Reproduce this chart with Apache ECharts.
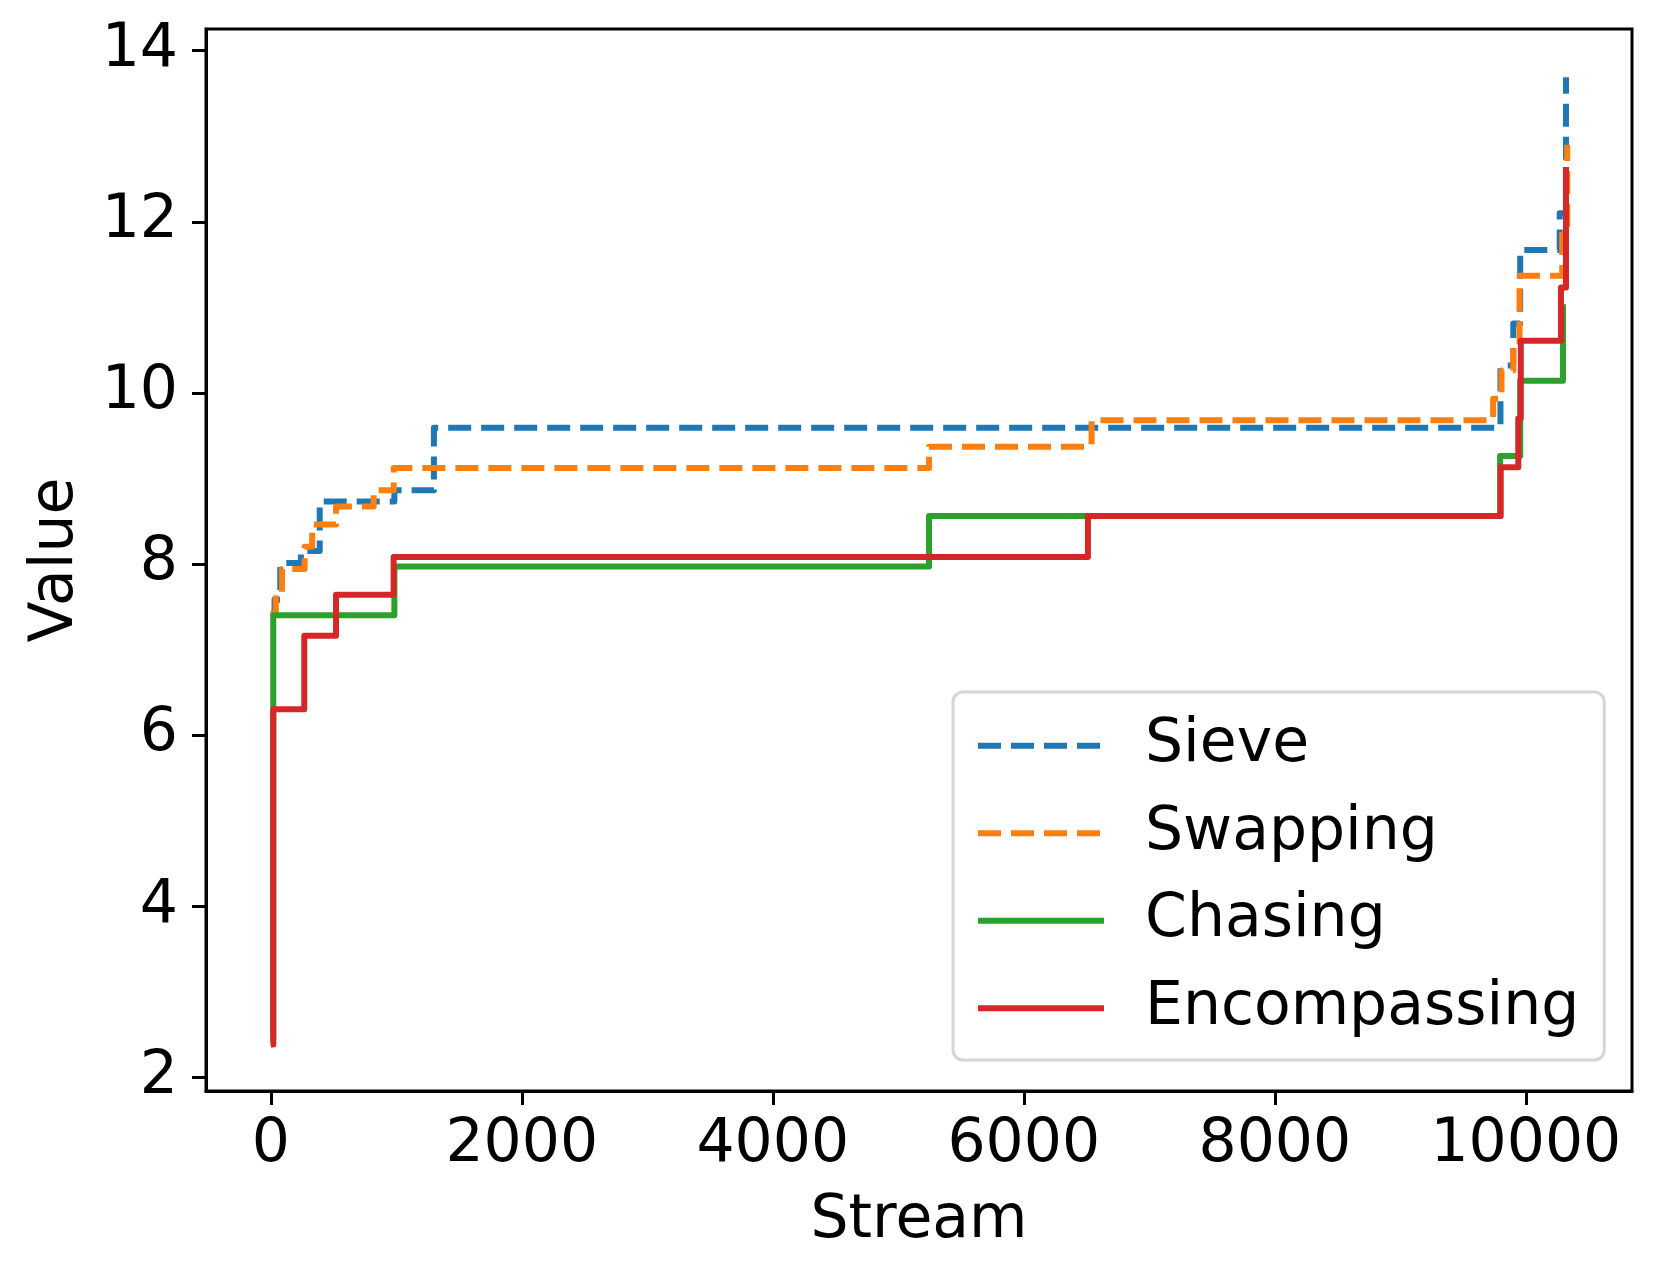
<!DOCTYPE html>
<html>
<head>
<meta charset="utf-8">
<script src="https://cdn.jsdelivr.net/npm/echarts@6/dist/echarts.min.js"></script>
<style>
html,body{margin:0;padding:0;background:#fff;}
#chart{width:1661px;height:1280px;}
</style>
</head>
<body>
<div id="chart"></div>
<script>
// Data (step lines: value holds from x until next x)
var seriesNames = ['Sieve', 'Swapping', 'Chasing', 'Encompassing'];

var sieveX = [0, 30, 76, 240, 390, 985, 1300, 9798, 9900, 9955, 10270, 10320];
var sieveY = [7.42, 7.58, 8.01, 8.15, 8.73, 8.86, 9.59, 10.32, 10.81, 11.67, 12.1, 13.69];

var swapX = [0, 40, 90, 270, 330, 520, 820, 980, 5245, 6540, 9740, 9806, 9900, 9950, 10290, 10330];
var swapY = [7.42, 7.65, 7.94, 8.2, 8.46, 8.67, 8.86, 9.12, 9.37, 9.68, 9.93, 10.26, 10.55, 11.37, 11.9, 12.9];

var chaseX = [0, 20, 985, 5245, 9795, 9955, 10296, 10320];
var chaseY = [2.45, 7.4, 7.97, 8.56, 9.26, 10.14, 11.0, 11.0];

var encX = [0, 20, 267, 520, 979, 6511, 9800, 9940, 9960, 10280, 10320];
var encY = [2.38, 6.3, 7.16, 7.64, 8.08, 8.56, 9.13, 9.70, 10.61, 11.23, 12.64];

var xTicks = [0, 2000, 4000, 6000, 8000, 10000];
var yTicks = [2, 4, 6, 8, 10, 12, 14];

var colors = ['#1f77b4', '#ff7f0e', '#2ca02c', '#d62728'];

function pairs(xs, ys) { return xs.map(function (x, i) { return [x, ys[i]]; }); }

var dataSets = [pairs(sieveX, sieveY), pairs(swapX, swapY), pairs(chaseX, chaseY), pairs(encX, encY)];
var dashed = [true, true, false, false];

var FONT = 'DejaVu Sans';
var FS = 60;

var chart = echarts.init(document.getElementById('chart'), null, {renderer: 'canvas'});
var option = {
  animation: false,
  backgroundColor: '#ffffff',
  textStyle: {fontFamily: FONT},
  grid: {
    left: 206, right: 29, top: 29, bottom: 189,
    show: true, borderColor: '#000', borderWidth: 3, backgroundColor: 'transparent'
  },
  xAxis: {
    type: 'value',
    min: -516, max: 10846,
    name: 'Stream',
    nameLocation: 'middle',
    nameGap: 100,
    nameTextStyle: {fontFamily: FONT, fontSize: FS, color: '#000'},
    splitLine: {show: false},
    axisLine: {show: true, onZero: false, lineStyle: {color: '#000', width: 3}},
    axisTick: {show: true, length: 14, lineStyle: {color: '#000', width: 3}, customValues: xTicks},
    axisLabel: {fontFamily: FONT, fontSize: FS, color: '#000', margin: 24, customValues: xTicks,
      formatter: function (v) { return String(v); }}
  },
  yAxis: {
    type: 'value',
    min: 1.836, max: 14.254,
    name: 'Value',
    nameLocation: 'middle',
    nameGap: 120,
    nameRotate: 90,
    nameTextStyle: {fontFamily: FONT, fontSize: FS, color: '#000'},
    splitLine: {show: false},
    axisLine: {show: true, onZero: false, lineStyle: {color: '#000', width: 3}},
    axisTick: {show: true, length: 14, lineStyle: {color: '#000', width: 3}, customValues: yTicks},
    axisLabel: {fontFamily: FONT, fontSize: FS, color: '#000', margin: 28, customValues: yTicks,
      formatter: function (v) { return String(v); }}
  },
  legend: {
    show: true,
    orient: 'vertical',
    left: 953, top: 692,
    padding: [10, 25, 8, 22],
    itemGap: 0,
    itemWidth: 126,
    itemHeight: 14,
    selectedMode: false,
    backgroundColor: '#ffffff',
    borderColor: '#d6d6d6',
    borderWidth: 3,
    borderRadius: 10,
    itemStyle: {opacity: 0},
    lineStyle: {width: 6},
    textStyle: {fontFamily: FONT, fontSize: FS, color: '#000', lineHeight: 87.5, padding: [0, 0, 0, 36]},
    data: seriesNames
  },
  series: seriesNames.map(function (name, i) {
    return {
      name: name,
      type: 'line',
      step: 'end',
      showSymbol: false,
      symbol: 'none',
      data: dataSets[i],
      color: colors[i],
      lineStyle: {
        color: colors[i],
        width: 6,
        type: dashed[i] ? [23, 10] : 'solid',
        cap: 'butt',
        join: 'round'
      },
      z: 2 + i
    };
  })
};
chart.setOption(option);
</script>
</body>
</html>
